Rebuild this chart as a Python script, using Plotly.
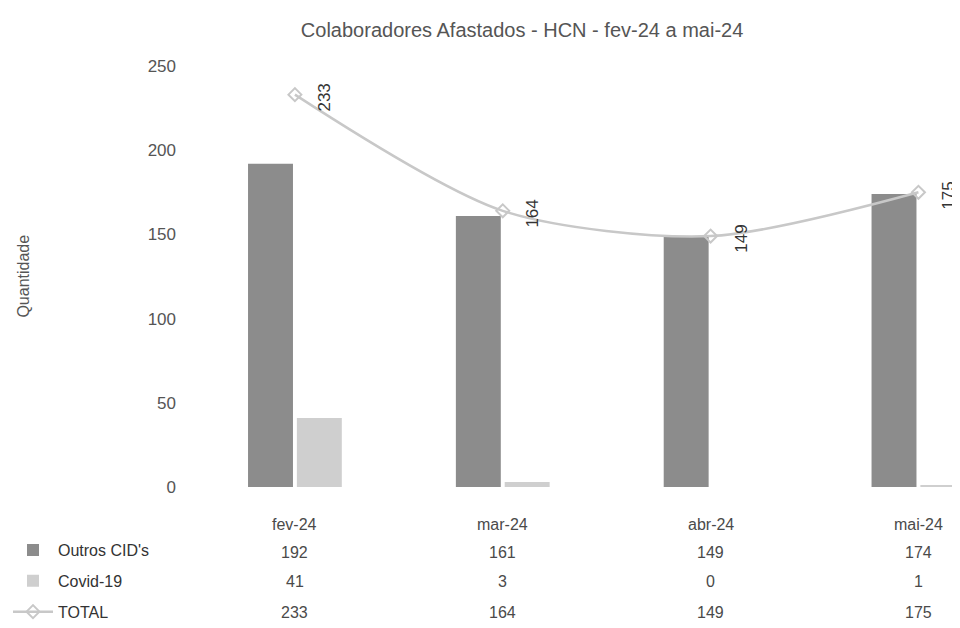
import plotly.graph_objects as go

categories = ["fev-24", "mar-24", "abr-24", "mai-24"]
outros = [192, 161, 149, 174]
covid = [41, 3, 0, 1]
total = [233, 164, 149, 175]
series_names = ["Outros CID's", "Covid-19", "TOTAL"]
y_ticks = [0, 50, 100, 150, 200, 250]

dark = "#8c8c8c"
light = "#cfcfcf"
line_c = "#c8c8c8"
txt = "#4a4a4a"
font_family = "Liberation Sans, Arial, sans-serif"

fig = go.Figure()
fig.add_trace(go.Bar(x=categories, y=outros, name=series_names[0],
                     marker=dict(color=dark, line=dict(width=0)),
                     legendgroup="a"))
fig.add_trace(go.Bar(x=categories, y=covid, name=series_names[1],
                     marker=dict(color=light, line=dict(width=0)),
                     legendgroup="b"))
fig.add_trace(go.Scatter(x=categories, y=total, name=series_names[2],
                         mode="lines+markers",
                         line=dict(color=line_c, width=2.5, shape="spline", smoothing=0.8),
                         marker=dict(symbol="diamond-open", size=10, color=line_c,
                                     line=dict(width=2, color=line_c)),
                         cliponaxis=False, legendgroup="c"))

annotations = []
# rotated data labels for TOTAL line
for c, v in zip(categories, total):
    annotations.append(dict(x=c, y=v, xref="x", yref="y", text=str(v),
                            textangle=-90, showarrow=False, xshift=30, yshift=-3,
                            font=dict(size=17, color="#333", family=font_family)))
# data table: header row + values
rows = [outros, covid, total]
row_y = [-0.155, -0.225, -0.297]
for c in categories:
    annotations.append(dict(x=c, y=-0.09, xref="x", yref="paper", text=c,
                            showarrow=False, yanchor="middle",
                            font=dict(size=16, color=txt, family=font_family)))
for vals, yy in zip(rows, row_y):
    for c, v in zip(categories, vals):
        annotations.append(dict(x=c, y=yy, xref="x", yref="paper", text=str(v),
                                showarrow=False, yanchor="middle",
                                font=dict(size=16, color=txt, family=font_family)))
# y-axis title
annotations.append(dict(x=-0.232, y=0.5, xref="paper", yref="paper", text="Quantidade",
                        textangle=-90, showarrow=False,
                        font=dict(size=16, color="#555", family=font_family)))

fig.update_layout(
    width=952, height=620,
    paper_bgcolor="white", plot_bgcolor="white",
    margin=dict(l=183, r=0, t=58, b=141),
    title=dict(text="Colaboradores Afastados - HCN - fev-24 a mai-24",
               x=0.54, xanchor="center", y=0.9645, yanchor="middle",
               font=dict(size=20, color="#555", family=font_family)),
    barmode="group", bargap=0.53, bargroupgap=0.08,
    font=dict(family=font_family, color=txt),
    xaxis=dict(range=[-0.5, 3.2], showticklabels=False, showgrid=False,
               zeroline=False, showline=False, ticks=""),
    yaxis=dict(range=[0, 250], tickvals=y_ticks, showgrid=False, zeroline=False,
               showline=False, ticks="", ticklabelstandoff=14, automargin=False,
               tickfont=dict(size=17, color="#555")),
    showlegend=True,
    legend=dict(x=0.0, y=0.153, xref="container", yref="container",
                xanchor="left", yanchor="top",
                orientation="v", traceorder="grouped", tracegroupgap=7,
                itemwidth=40, font=dict(size=16, color="#333"),
                bgcolor="rgba(0,0,0,0)"),
    annotations=annotations,
)

fig.write_html("out.html")
